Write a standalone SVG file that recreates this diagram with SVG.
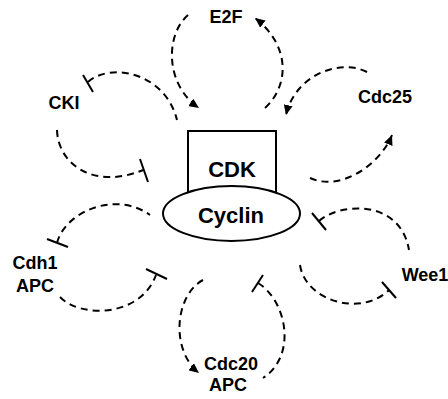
<svg xmlns="http://www.w3.org/2000/svg" width="448" height="399" viewBox="0 0 448 399">
  <style>
    .lbl { font-family: "Liberation Sans", Arial, sans-serif; font-weight: bold; font-size: 18px; fill: #000; text-anchor: middle; }
    .big { font-family: "Liberation Sans", Arial, sans-serif; font-weight: bold; font-size: 22px; fill: #000; text-anchor: middle; }
    .dash { fill: none; stroke: #000; stroke-width: 2; stroke-dasharray: 7 5; }
    .arr { marker-end: url(#ah); }
    .tbar { stroke: #000; stroke-width: 2; fill: none; }
    .shape { fill: #fff; stroke: #000; stroke-width: 2; }
  </style>
  <defs>
    <marker id="ah" markerUnits="userSpaceOnUse" markerWidth="11" markerHeight="9" refX="10" refY="4.5" orient="auto">
      <path d="M0,0 L10,4.5 L0,9 z" fill="#000"/>
    </marker>
  </defs>
  <rect width="448" height="399" fill="#fff"/>

  <g id="complex">
    <rect class="shape" x="188" y="131" width="88" height="62"/>
    <text class="big" x="232" y="177">CDK</text>
    <ellipse class="shape" cx="231.5" cy="213.5" rx="68.5" ry="27.5"/>
    <text class="big" x="231" y="223">Cyclin</text>
  </g>

  <g id="E2F"><text class="lbl" x="226" y="23">E2F</text></g>
  <g id="CKI"><text class="lbl" x="64" y="109">CKI</text></g>
  <g id="Cdc25"><text class="lbl" x="385" y="103">Cdc25</text></g>
  <g id="Cdh1APC"><text class="lbl" x="35" y="269">Cdh1</text><text class="lbl" x="35" y="292">APC</text></g>
  <g id="Wee1"><text class="lbl" x="425" y="281">Wee1</text></g>
  <g id="Cdc20APC"><text class="lbl" x="231" y="370">Cdc20</text><text class="lbl" x="228" y="391">APC</text></g>

  <g id="connectors">
    <path class="dash arr" d="M188,15 C165,35 165,85 199,108"/>
    <path class="dash arr" d="M265,108 C290,85 290,45 255,18"/>
    <path class="dash arr" d="M367,72 C340,58 295,75 286,115"/>
    <path class="dash arr" d="M310,178 C340,192 380,165 392,135"/>
    <path class="dash" d="M88,82 C110,62 165,72 177,120"/>
    <line class="tbar" x1="83" y1="75" x2="93" y2="92"/>
    <path class="dash" d="M57,130 C58,165 95,190 143,170"/>
    <line class="tbar" x1="140" y1="159" x2="148" y2="182"/>
    <path class="dash" d="M57,243 C65,212 115,190 150,215"/>
    <line class="tbar" x1="47" y1="239" x2="68" y2="247"/>
    <path class="dash" d="M60,297 C80,318 140,318 156,275"/>
    <line class="tbar" x1="146" y1="269" x2="167" y2="279"/>
    <path class="dash arr" d="M203,280 C175,295 170,350 199,373"/>
    <path class="dash" d="M258,283 C286,300 298,355 263,378"/>
    <line class="tbar" x1="252" y1="292" x2="263" y2="275"/>
    <path class="dash" d="M319,221 C339,203 400,198 409,250"/>
    <line class="tbar" x1="312" y1="213" x2="326" y2="230"/>
    <path class="dash" d="M300,265 C305,300 360,318 389,290"/>
    <line class="tbar" x1="382" y1="282" x2="396" y2="298"/>
  </g>
</svg>
